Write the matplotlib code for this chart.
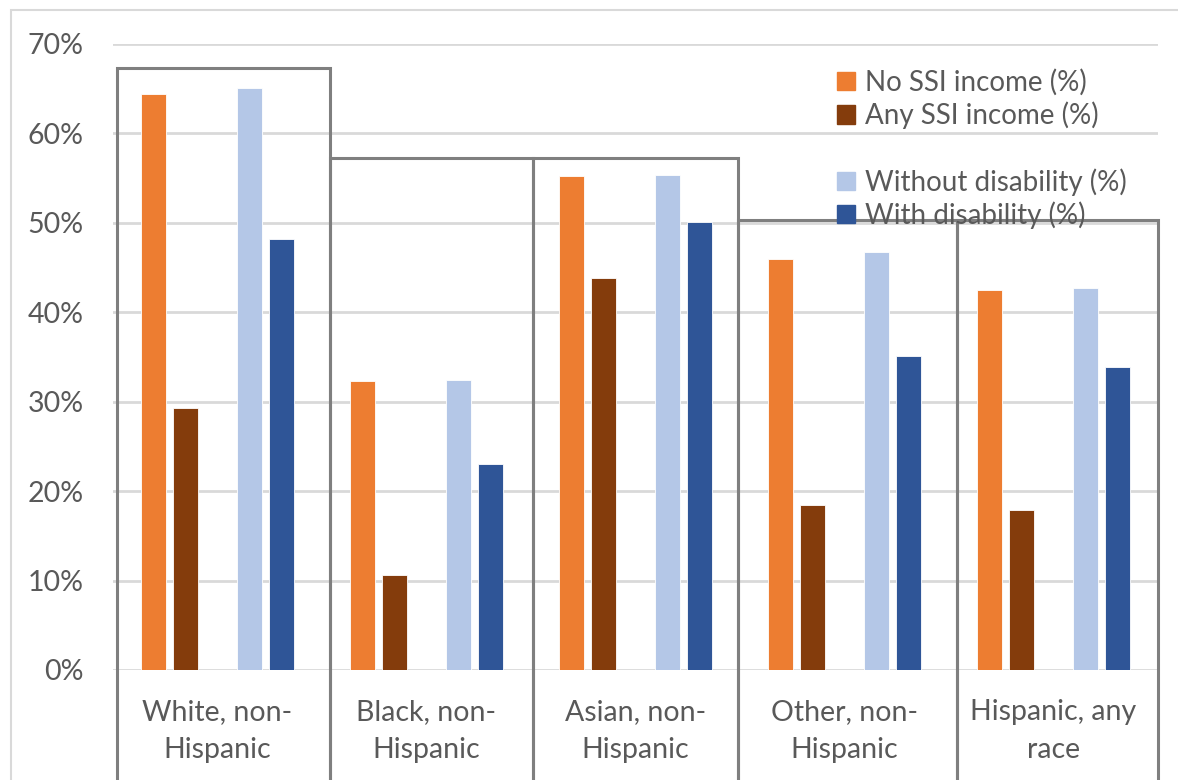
import numpy as np
import matplotlib.pyplot as plt
from matplotlib.patches import Rectangle, Patch

plt.rcParams['font.family'] = ['Lato', 'DejaVu Sans']

groups = ['White, non-\nHispanic', 'Black, non-\nHispanic', 'Asian, non-\nHispanic',
          'Other, non-\nHispanic', 'Hispanic, any\nrace']
no_ssi = [64.4, 32.3, 55.2, 46.0, 42.5]
any_ssi = [29.3, 10.6, 43.8, 18.4, 17.9]
no_dis = [65.1, 32.4, 55.3, 46.7, 42.7]
with_dis = [48.2, 23.0, 50.1, 35.1, 33.9]

series = [('No SSI income (%)', no_ssi, '#ED7D31'),
          ('Any SSI income (%)', any_ssi, '#843C0C'),
          ('Without disability (%)', no_dis, '#B4C7E7'),
          ('With disability (%)', with_dis, '#2F5597')]

# grouping frames drawn around the categories
box_edges = [-0.48, 0.54, 1.51, 2.49, 3.54, 4.5]
box_tops = [67.3, 57.3, 57.3, 50.3, 50.3]

fig = plt.figure(figsize=(11.78, 7.8), dpi=100)
ax = fig.add_axes([113/1178, 110/780, 1045/1178, 626/780])

x = np.arange(len(groups))
slot = 0.153
offsets = [-2*slot, -slot, slot, 2*slot]
for (name, vals, col), off in zip(series, offsets):
    ax.bar(x + off, vals, width=0.12, color=col, zorder=3,
           edgecolor='white', linewidth=0.6)

ax.set_xlim(-0.5, 4.5)
ax.set_ylim(0, 70)
ax.set_yticks(range(0, 71, 10))
ax.set_yticklabels(['%d%%' % v for v in range(0, 71, 10)])
ax.yaxis.grid(True, color='#d9d9d9', linewidth=2, zorder=0)
ax.set_axisbelow(True)
ax.tick_params(axis='y', length=0, pad=21, labelsize=20.5, labelcolor='#595959')
ax.set_xticks([])
for s in ax.spines.values():
    s.set_visible(False)

for i, g in enumerate(groups):
    ax.text(i, -6.85, g, ha='center', va='center', fontsize=20.5, color='#595959',
            linespacing=1.55)

for i in range(len(box_tops)):
    r = Rectangle((box_edges[i], -20), box_edges[i+1] - box_edges[i], box_tops[i] + 20,
                  fill=False, edgecolor='#7f7f7f', linewidth=2.2, clip_on=False, zorder=4)
    ax.add_patch(r)

# outer chart border
fig.add_artist(Rectangle((11/1178, -0.1), 1.2, 1 - 10/780 + 0.1,
                         transform=fig.transFigure, fill=False,
                         edgecolor='#d9d9d9', linewidth=1.5))

h1 = [Patch(color=c, label=n) for n, v, c in series[:2]]
h2 = [Patch(color=c, label=n) for n, v, c in series[2:]]
kw = dict(frameon=False, fontsize=20, handlelength=0.65, handleheight=0.65,
          handletextpad=0.35, labelspacing=0.2, labelcolor='#595959')
fig.legend(handles=h1, loc='upper left', bbox_to_anchor=(812/1178, 1 - 44/780), **kw)
fig.legend(handles=h2, loc='upper left', bbox_to_anchor=(812/1178, 1 - 143/780), **kw)

fig.savefig('out.png', dpi=100, facecolor='white')
